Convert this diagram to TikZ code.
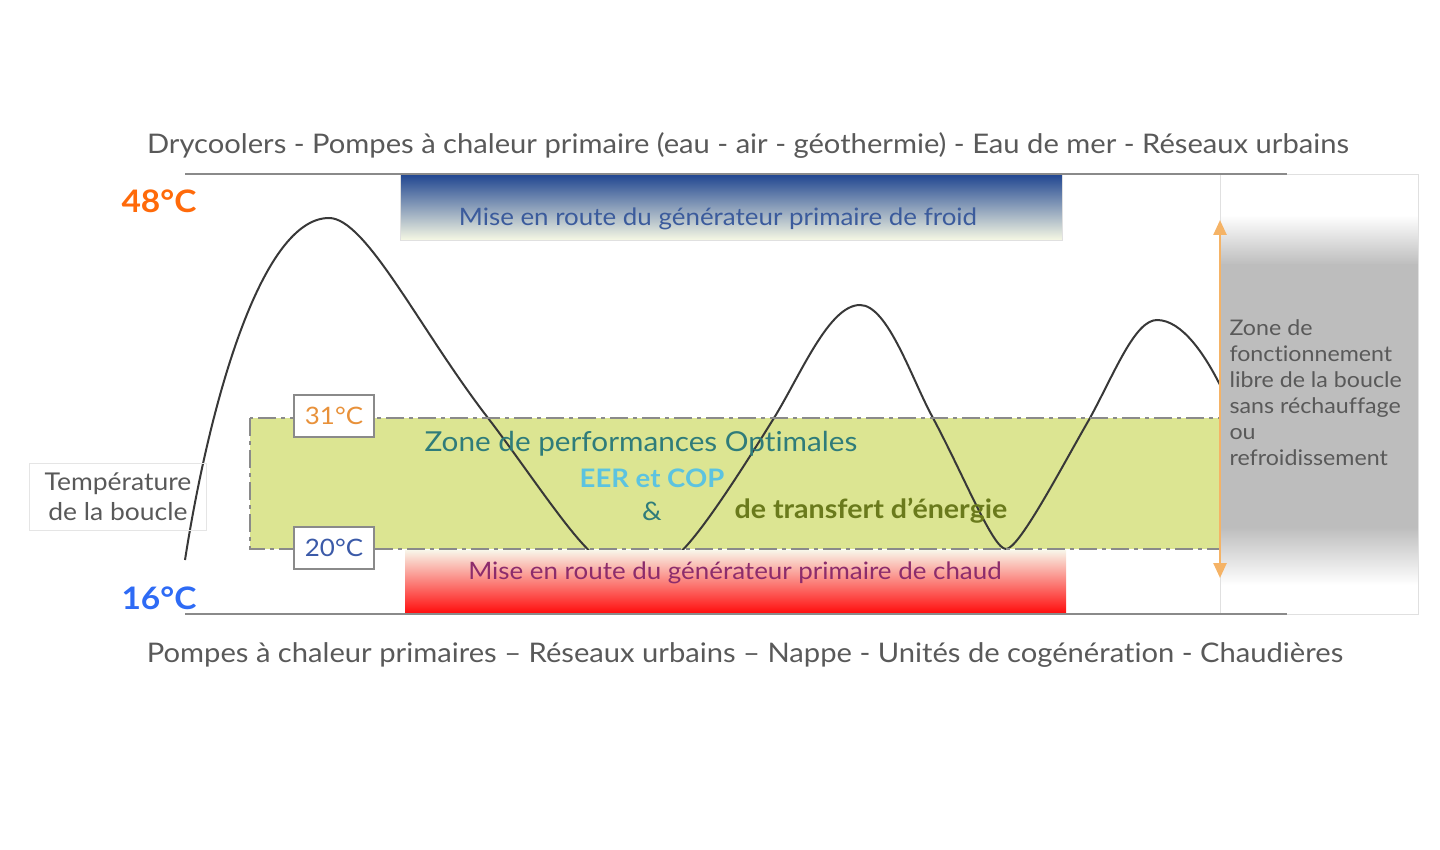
\documentclass[tikz,border=0pt]{standalone}
\usepackage{fontspec}
\setmainfont{Lato}[FakeStretch=1.08, Ligatures=CommonOff]
\usetikzlibrary{arrows.meta}

\definecolor{txtgray}{HTML}{595959}
\definecolor{linegray}{HTML}{8A8A8A}
\definecolor{hotorange}{HTML}{FF6A0A}
\definecolor{coldblue}{HTML}{2E6BF5}
\definecolor{froidtop}{HTML}{1F4590}
\definecolor{froidbot}{HTML}{F6F8E4}
\definecolor{froidtxt}{HTML}{3B5B9C}
\definecolor{chaudtop}{HTML}{F8F6EA}
\definecolor{chaudbot}{HTML}{FF0A0A}
\definecolor{chaudtxt}{HTML}{8C2C6C}
\definecolor{zonefill}{HTML}{DCE592}
\definecolor{zonetxt}{HTML}{2F7C7A}
\definecolor{eertxt}{HTML}{5CC3E0}
\definecolor{transtxt}{HTML}{6A7A1C}
\definecolor{tempor}{HTML}{E8913A}
\definecolor{tempbl}{HTML}{3B5AA8}
\definecolor{panelgray}{HTML}{BDBDBD}
\definecolor{arrorange}{HTML}{F5B366}

\tikzset{
    sourcetxt/.style={text=txtgray, font=\fontsize{27}{31}\selectfont},
    limtxt/.style={font=\bfseries\fontsize{31}{35}\selectfont},
    tempbox/.style={draw=linegray, line width=1.2, fill=white, minimum width=80, minimum height=42, font=\fontsize{24}{28}\selectfont},
    genbox/.style={draw=black!12, line width=0.8},
    gentxt/.style={font=\fontsize{24}{28}\selectfont}
}

\begin{document}
\begin{tikzpicture}[x=1pt, y=-1pt]
    \useasboundingbox (0,0) rectangle (1440,850);

    % Right panel: free running zone of the loop
    \fill[white] (1220,174) rectangle (1418,614);
    \shade[top color=white, bottom color=panelgray] (1220,215) rectangle (1418,265);
    \fill[panelgray] (1220,264) rectangle (1418,528);
    \shade[top color=panelgray, bottom color=white] (1220,527) rectangle (1418,585);
    \draw[black!12, line width=0.8] (1220,174) rectangle (1418,614);

    % Cold generator bar
    \shade[top color=froidtop, bottom color=froidbot] (400,174) rectangle (1062,240);
    \draw[genbox] (400,174) rectangle (1062,240);
    \node[gentxt, text=froidtxt] (froid) at (718,219) {Mise en route du générateur primaire de froid};

    % Optimal zone between 20 and 31 degrees
    \fill[zonefill] (250,418) rectangle (1220,549);

    % Loop temperature curve (first trough goes under the hot bar)
    \draw[black!78, line width=2] (185,560)
        .. controls (210,400) and (262,218) .. (329,218)
        .. controls (366,218) and (420,330) .. (488,418)
        .. controls (531,474) and (586,560) .. (604,560)
        -- (668,560)
        .. controls (686,560) and (749,458) .. (774,418)
        .. controls (801,374) and (829,305) .. (860,305)
        .. controls (888,305) and (912,380) .. (933,418)
        .. controls (965,478) and (993,549) .. (1006,549)
        .. controls (1019,549) and (1060,470) .. (1090,418)
        .. controls (1115,372) and (1135,320) .. (1157,320)
        .. controls (1182,320) and (1205,355) .. (1220,385);

    \draw[linegray, line width=2.5, dash pattern=on 18pt off 5pt on 4pt off 5pt] (250,418) rectangle (1220,549);
    \node[anchor=west, text=zonetxt, font=\fontsize{27.5}{31}\selectfont] (zone) at (421,444) {Zone de performances Optimales};
    \node[text=eertxt, font=\bfseries\fontsize{25.5}{29}\selectfont] (eer) at (652,478) {EER et COP};
    \node[text=zonetxt, font=\fontsize{25.5}{29}\selectfont] (and) at (652,511) {\&};
    \node[anchor=west, text=transtxt, font=\bfseries\fontsize{26.5}{30}\selectfont] (transfert) at (731,511) {de transfert d’énergie};

    % Hot generator bar
    \shade[top color=chaudtop, bottom color=chaudbot] (405,550) rectangle (1066,614);
    \node[gentxt, text=chaudtxt] (chaud) at (735,573) {Mise en route du générateur primaire de chaud};

    % Limits of the loop temperature
    \draw[linegray, line width=2] (185,174) -- (1287,174);
    \draw[linegray, line width=2] (185,614) -- (1287,614);
    \node[sourcetxt] (sources) at (748,145) {Drycoolers - Pompes à chaleur primaire (eau - air - géothermie) - Eau de mer - Réseaux urbains};
    \node[sourcetxt] (puits) at (745,655) {Pompes à chaleur primaires – Réseaux urbains – Nappe - Unités de cogénération - Chaudières};
    \node[limtxt, text=hotorange] (tmax) at (159,201) {48°C};
    \node[limtxt, text=coldblue] (tmin) at (159,598) {16°C};

    % Label of the loop
    \node[draw=black!10, line width=0.8, minimum width=177, minimum height=67, align=center, text=txtgray, font=\fontsize{24.5}{30}\selectfont] (boucle) at (118,497) {Température\\de la boucle};

    % 31 and 20 degree marks
    \node[tempbox, text=tempor] (t31) at (334,416) {31°C};
    \node[tempbox, text=tempbl] (t20) at (334,548) {20°C};

    % Free running range
    \coordinate (rtop) at (1220,220);
    \coordinate (rbot) at (1220,578);
    \draw[arrorange, line width=2.5, {Triangle[width=13pt,length=15pt]}-{Triangle[width=13pt,length=15pt]}] (rtop) -- (rbot);
    \node[anchor=north west, align=left, text=txtgray, font=\fontsize{21.5}{26}\selectfont] (libre) at (1226,316) {Zone de\\fonctionnement\\libre de la boucle\\sans réchauffage\\ou\\refroidissement};
\end{tikzpicture}
\end{document}
